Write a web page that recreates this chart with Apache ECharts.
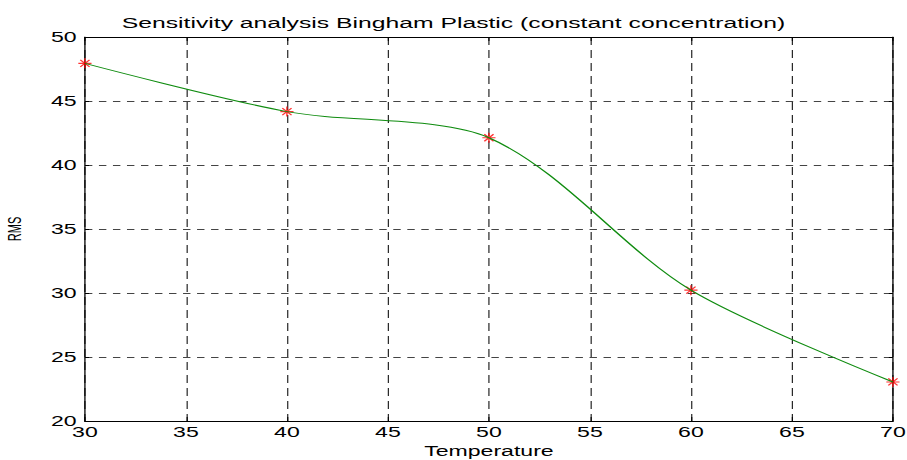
<!DOCTYPE html>
<html>
<head>
<meta charset="utf-8">
<script src="https://cdn.jsdelivr.net/npm/echarts@6/dist/echarts.min.js"></script>
<style>
html,body{margin:0;padding:0;background:#fff;overflow:hidden;}
#wrap{width:907px;height:460px;overflow:hidden;}
#chart{width:550px;height:460px;transform:scaleX(1.649);transform-origin:0 0;}
</style>
</head>
<body>
<div id="wrap"><div id="chart"></div></div>
<script>
var titleText = 'Sensitivity analysis Bingham Plastic (constant concentration)';
var xName = 'Temperature';
var yName = 'RMS';
var temperature = [30, 40, 50, 60, 70];
var rms = [47.94, 44.17, 42.13, 30.22, 23.05];
var xRange = [30, 70, 5];
var yRange = [20, 50, 5];

var points = temperature.map(function (t, i) { return [t, rms[i]]; });
var S = 1.649;           // horizontal stretch of the page
var vw = 1.1 / S;        // stroke width for vertical strokes after stretch
var font = 'Liberation Sans, Arial, Helvetica, sans-serif';

var chart = echarts.init(document.getElementById('chart'), null, {renderer: 'svg'});
chart.setOption({
  animation: false,
  backgroundColor: '#fff',
  title: {
    text: titleText,
    left: 'center',
    top: 10,
    textStyle: {fontFamily: font, fontSize: 15, fontWeight: 'normal', color: '#000'}
  },
  grid: {left: 51.5, right: 8.5, top: 37, bottom: 39, containLabel: false, outerBoundsMode: 'none'},
  xAxis: [{
    type: 'value', min: xRange[0], max: xRange[1], interval: xRange[2],
    name: xName, nameLocation: 'middle', nameGap: 22,
    nameTextStyle: {fontFamily: font, fontSize: 14, color: '#000'},
    axisLine: {show: true, onZero: false, lineStyle: {color: '#000', width: 1.2}},
    axisTick: {show: true, inside: true, length: 4, lineStyle: {color: '#000', width: vw}},
    axisLabel: {fontFamily: font, fontSize: 14, color: '#000', margin: 4},
    splitLine: {show: true, lineStyle: {color: '#111', width: vw, type: [8, 5]}}
  }, {
    type: 'value', position: 'top', min: xRange[0], max: xRange[1], interval: xRange[2],
    axisLine: {show: true, onZero: false, lineStyle: {color: '#000', width: 1.2}},
    axisTick: {show: true, inside: true, length: 4, lineStyle: {color: '#000', width: vw}},
    axisLabel: {show: false}, splitLine: {show: false}
  }],
  yAxis: [{
    type: 'value', min: yRange[0], max: yRange[1], interval: yRange[2],
    name: yName, nameLocation: 'middle', nameGap: 37,
    nameTextStyle: {fontFamily: font, fontSize: 11, color: '#000'},
    axisLine: {show: true, onZero: false, lineStyle: {color: '#000', width: 1.3 / S}},
    axisTick: {show: true, inside: true, length: 2.5, lineStyle: {color: '#000', width: 1}},
    axisLabel: {fontFamily: font, fontSize: 14, color: '#000', margin: 5},
    splitLine: {show: true, lineStyle: {color: '#444', width: 1, type: [4.5, 4]}}
  }, {
    type: 'value', position: 'right', min: yRange[0], max: yRange[1], interval: yRange[2],
    axisLine: {show: true, onZero: false, lineStyle: {color: '#000', width: 1.3 / S}},
    axisTick: {show: true, inside: true, length: 2.5, lineStyle: {color: '#000', width: 1}},
    axisLabel: {show: false}, splitLine: {show: false}
  }],
  series: [{
    type: 'scatter',
    data: points,
    symbol: 'path://M5,0 L5,10 M0,5 L10,5 M1.5,1.5 L8.5,8.5 M1.5,8.5 L8.5,1.5',
    symbolSize: [8, 10],
    itemStyle: {color: 'none', borderColor: '#ff0000', borderWidth: 1},
    z: 2
  }, {
    type: 'line',
    data: points,
    smooth: 0.3,
    showSymbol: false,
    lineStyle: {color: '#108c10', width: 1},
    z: 3
  }]
});
</script>
</body>
</html>
